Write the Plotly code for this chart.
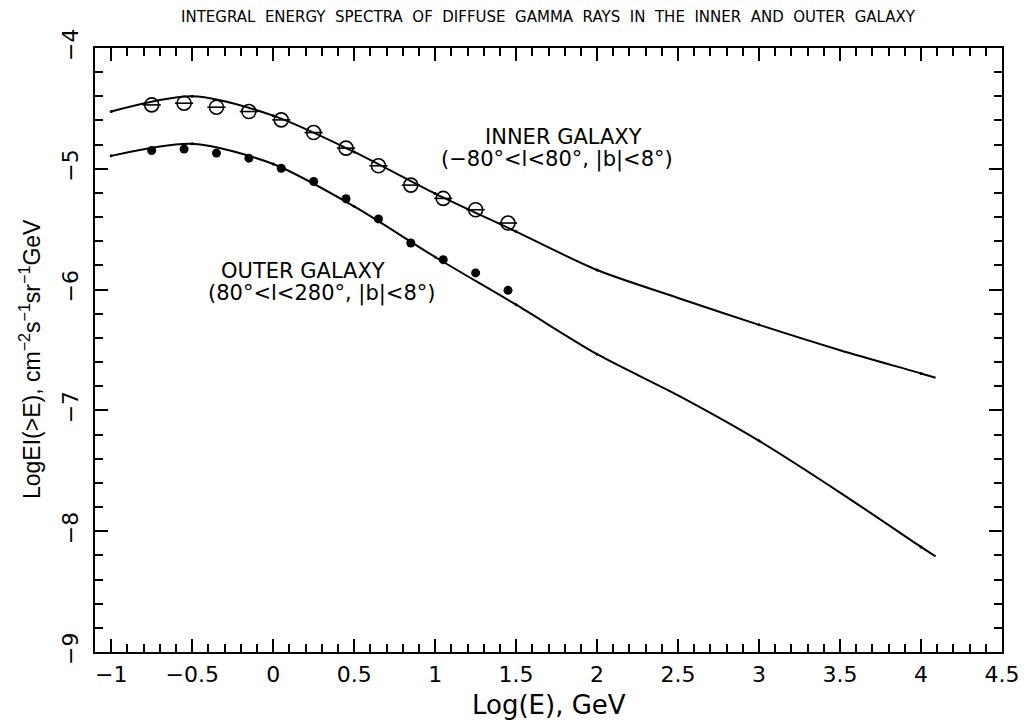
import plotly.graph_objects as go

# measured integral spectra (log E in GeV, log I(>E))
log_e = [-0.75, -0.55, -0.35, -0.15, 0.05, 0.25, 0.45, 0.65, 0.85, 1.05, 1.25, 1.45]
inner_obs = [-4.471, -4.457, -4.490, -4.526, -4.595, -4.700, -4.829, -4.975, -5.135, -5.245, -5.339, -5.449]
outer_obs = [-4.849, -4.837, -4.870, -4.912, -4.995, -5.105, -5.248, -5.415, -5.614, -5.752, -5.862, -6.006]

# model curves
log_e_model = [-1.0, -0.5, 0.0, 0.5, 1.0, 1.5, 2.0, 2.5, 3.0, 3.5, 4.0, 4.09]
inner_model = [-4.526, -4.400, -4.560, -4.860, -5.205, -5.520, -5.838, -6.069, -6.292, -6.502, -6.694, -6.730]
outer_model = [-4.893, -4.793, -4.960, -5.311, -5.730, -6.125, -6.535, -6.876, -7.252, -7.680, -8.130, -8.209]

# points where the model was evaluated (small dots on the curves)
log_e_dots = [-1.0, -0.5, 0.0, 0.5, 1.0, 1.5, 2.0, 3.0, 4.0]
inner_dots = [-4.526, -4.400, -4.560, -4.860, -5.205, -5.520, -5.838, -6.292, -6.694]
outer_dots = [-4.893, -4.793, -4.960, -5.311, -5.730, -6.125, -6.535, -7.252, -8.130]

TITLE = "INTEGRAL ENERGY SPECTRA OF DIFFUSE GAMMA RAYS IN THE INNER AND OUTER GALAXY"

FONT = "DejaVu Sans"
FONT2 = "Liberation Sans"

fig = go.Figure()

for ym in [inner_model, outer_model]:
    fig.add_trace(go.Scatter(x=log_e_model, y=ym, mode="lines",
                             line=dict(color="black", width=2, shape="spline", smoothing=0.8),
                             showlegend=False))
for yd in [inner_dots, outer_dots]:
    fig.add_trace(go.Scatter(x=log_e_dots, y=yd, mode="markers",
                             marker=dict(color="black", size=3), showlegend=False))

fig.add_trace(go.Scatter(x=log_e, y=inner_obs, mode="markers",
                         marker=dict(symbol="circle-open", size=14, color="black",
                                     line=dict(color="black", width=1.6)),
                         showlegend=False))
fig.add_trace(go.Scatter(x=log_e, y=inner_obs, mode="markers",
                         marker=dict(symbol="line-ew", size=13, color="black",
                                     line=dict(color="black", width=1.6)),
                         showlegend=False))
fig.add_trace(go.Scatter(x=log_e, y=outer_obs, mode="markers",
                         marker=dict(symbol="circle", size=9, color="black"),
                         showlegend=False))

labels = [
    (1.795, -4.736, "INNER GALAXY"),
    (1.751, -4.926, "(−80°<l<80°, |b|<8°)"),
    (0.183, -5.843, "OUTER GALAXY"),
    (0.300, -6.033, "(80°<l<280°, |b|<8°)"),
]
for lx, ly, txt in labels:
    fig.add_annotation(x=lx, y=ly, text=txt, showarrow=False,
                       font=dict(family=FONT, size=21, color="black"))

# wide word spacing like the original plot
fig.add_annotation(xref="paper", yref="paper", x=0.5, y=1, yshift=31, yanchor="middle",
                   text=TITLE.replace(" ", "\u00a0\u00a0"),
                   showarrow=False, font=dict(family=FONT, size=15, color="black"))
fig.add_annotation(xref="paper", yref="paper", x=0.5, y=0, yshift=-53, yanchor="middle",
                   text="Log(E), GeV", showarrow=False,
                   font=dict(family=FONT, size=26, color="black"))
fig.add_annotation(xref="paper", yref="paper", x=0, xshift=-65, y=0.25, yanchor="bottom",
                   textangle=-90, xanchor="center",
                   text="LogEI(>E), cm<sup>−2</sup>s<sup>−1</sup>sr<sup>−1</sup>GeV",
                   showarrow=False, font=dict(family=FONT2, size=23, color="black"))

axis_common = dict(showline=True, linecolor="black", linewidth=2, mirror="ticks",
                   ticks="inside", ticklen=13, tickwidth=1.5, tickcolor="black",
                   showgrid=False, zeroline=False, automargin=False,
                   tickfont=dict(family=FONT, size=22, color="black"))

fig.update_xaxes(range=[-1.1, 4.5], tick0=-1, dtick=0.5,
                 minor=dict(dtick=0.1, ticks="inside", ticklen=8, tickwidth=1.5, tickcolor="black"),
                 ticklabelstandoff=2, **axis_common)
fig.update_yaxes(range=[-9, -4], tick0=-9, dtick=1, tickangle=-90,
                 minor=dict(dtick=0.2, ticks="inside", ticklen=8, tickwidth=1.5, tickcolor="black"),
                 ticklabelstandoff=6, **axis_common)

# the page body adds an 8 px offset, so the margins are shifted to compensate
fig.update_layout(width=1027, height=725, margin=dict(l=87, r=33, t=40, b=81),
                  plot_bgcolor="white", paper_bgcolor="white",
                  font=dict(family=FONT, color="black"))

fig.write_html("out.html")
